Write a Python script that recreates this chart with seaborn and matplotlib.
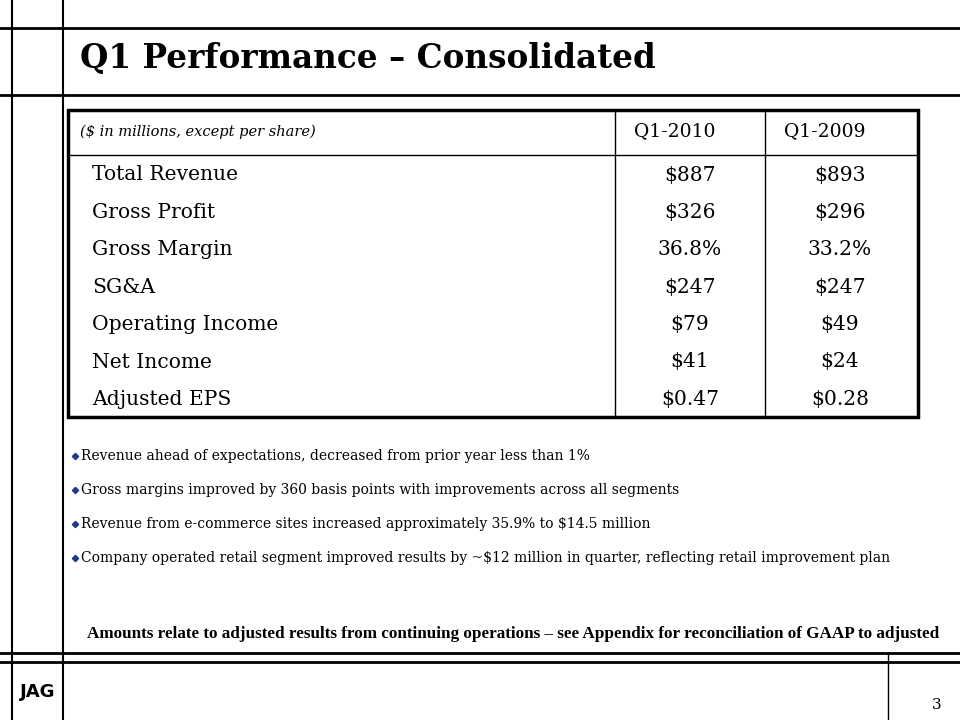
import matplotlib
matplotlib.use("Agg")
import matplotlib.pyplot as plt
import seaborn as sns

sns.set_theme(style="white")
plt.rcParams['font.family'] = ['DejaVu Serif', 'Liberation Serif']
plt.rcParams['text.color'] = 'black'

# table content
title = "Q1 Performance \u2013 Consolidated"
unit_note = "($ in millions, except per share)"
periods = ["Q1-2010", "Q1-2009"]
metrics = ["Total Revenue", "Gross Profit", "Gross Margin", "SG&A",
           "Operating Income", "Net Income", "Adjusted EPS"]
q1_2010 = ["$887", "$326", "36.8%", "$247", "$79", "$41", "$0.47"]
q1_2009 = ["$893", "$296", "33.2%", "$247", "$49", "$24", "$0.28"]
bullets = [
    "Revenue ahead of expectations, decreased from prior year less than 1%",
    "Gross margins improved by 360 basis points with improvements across all segments",
    "Revenue from e-commerce sites increased approximately 35.9% to $14.5 million",
    "Company operated retail segment improved results by ~$12 million in quarter, reflecting retail improvement plan",
]
footnote = ("Amounts relate to adjusted results from continuing operations \u2013 "
            "see Appendix for reconciliation of GAAP to adjusted")
page_no = "3"

fig = plt.figure(figsize=(9.6, 7.2), dpi=100)
ax = fig.add_axes([0, 0, 1, 1])
ax.set_xlim(0, 960)
ax.set_ylim(720, 0)
ax.axis("off")

# slide frame
for x in (12, 63):
    ax.plot([x, x], [0, 720], color="black", lw=1.5)
for y in (28, 95, 653, 662):
    ax.plot([0, 960], [y, y], color="black", lw=2)
ax.plot([888, 888], [653, 720], color="black", lw=1)

ax.text(80, 58, title, fontsize=23.5, fontweight="semibold", va="center", ha="left")

# table
left, right, top, bottom = 68, 918, 110, 417
ax.add_patch(plt.Rectangle((left, top), right - left, bottom - top,
                           fill=False, ec="black", lw=2.5))
ax.plot([left, right], [155, 155], color="black", lw=1)
for x in (615, 765):
    ax.plot([x, x], [top, bottom], color="black", lw=1)
ax.text(80, 132, unit_note, fontsize=10.5, style="italic", va="center")
ax.text(675, 131, periods[0], fontsize=13.5, ha="center", va="center")
ax.text(825, 131, periods[1], fontsize=13.5, ha="center", va="center")

row_y = [175 + 37.4 * i for i in range(len(metrics))]
for y, m, a, b in zip(row_y, metrics, q1_2010, q1_2009):
    ax.text(92, y, m, fontsize=14.6, va="center")
    ax.text(690, y, a, fontsize=14.6, ha="center", va="center")
    ax.text(840, y, b, fontsize=14.6, ha="center", va="center")

# bullets
for i, b in enumerate(bullets):
    y = 456 + 34 * i
    ax.plot(75, y, marker="D", ms=3.2, color="#1f3a8a", mec="#1f3a8a")
    ax.text(81, y, b, fontsize=10.0, va="center", ha="left")

ax.text(513, 634, footnote, fontsize=12.3, fontweight="bold",
        family="Liberation Serif", ha="center", va="center")

# logo and page number
ax.text(38, 692, "JAG", fontsize=13, fontweight="bold", family="DejaVu Sans",
        ha="center", va="center")
ax.text(937, 705, page_no, fontsize=11, ha="center", va="center")

fig.savefig("out.png", dpi=100)
